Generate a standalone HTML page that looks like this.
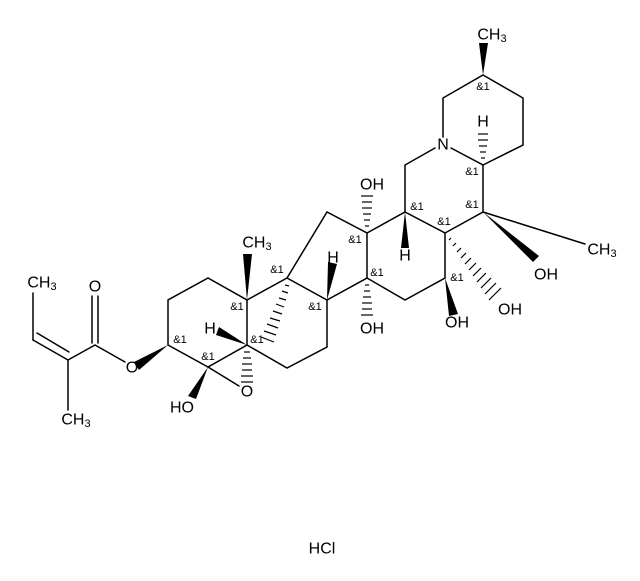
<!DOCTYPE html>
<html><head><meta charset="utf-8"><style>
html,body{margin:0;padding:0;background:#fff;}
svg{display:block;}
text{font-family:"Liberation Sans",Arial,sans-serif;fill:#000;}
.a{font-size:16px;text-anchor:middle;dominant-baseline:central;}
.s{font-size:11px;text-anchor:middle;dominant-baseline:central;}
</style></head><body>
<svg width="640" height="581" viewBox="0 0 640 581" xmlns="http://www.w3.org/2000/svg">
<g stroke="#000" stroke-width="1.5" fill="none" stroke-linecap="round">
<line x1="33" y1="293" x2="33" y2="340"/>
<line x1="33" y1="340" x2="68" y2="360"/>
<line x1="37" y1="333" x2="69" y2="352"/>
<line x1="68" y1="360" x2="68" y2="410"/>
<line x1="68" y1="360" x2="95" y2="345"/>
<line x1="92" y1="343" x2="92" y2="296"/>
<line x1="98" y1="343" x2="98" y2="296"/>
<line x1="95" y1="345" x2="125" y2="362"/>
<polyline points="168,345 168,300 208,278 247,300 247,345 208,367 168,345"/>
<line x1="208" y1="367" x2="239" y2="386"/>
<line x1="247" y1="300" x2="287" y2="278"/>
<polyline points="287,278 327,212 367,233 367,278 327,300 287,278"/>
<polyline points="327,300 327,347 287,368 247,345"/>
<polyline points="367,278 405,300 445,278 445,233 405,212 367,233"/>
<polyline points="445,233 483,212 483,165 451,148"/>
<polyline points="435,148 405,165 405,212"/>
<polyline points="443,137 443,98 483,75 523,98 523,145 483,165"/>
<line x1="483" y1="212" x2="585" y2="244"/>
</g>
<g fill="#000">
<polygon points="168,345 134,362 139,370"/>
<polygon points="208,367 188,396 196,399"/>
<polygon points="247,345 219,327 216,335"/>
<polygon points="247,300 243,254 252,254"/>
<polygon points="327,300 328,262 337,264"/>
<polygon points="445,278 449,316 458,314"/>
<polygon points="405,212 401,248 409,248"/>
<polygon points="483,212 533,262 539,256"/>
<polygon points="483,75 479,43 488,43"/>
</g>
<g stroke="#000" stroke-width="1.2">
<line x1="244" y1="352" x2="250" y2="352"/><line x1="243" y1="358" x2="251" y2="358"/><line x1="242" y1="364" x2="252" y2="364"/><line x1="242" y1="370" x2="252" y2="370"/><line x1="241" y1="376" x2="253" y2="376"/><line x1="241" y1="382" x2="253" y2="382"/>
<line x1="285" y1="285" x2="289" y2="286"/><line x1="282" y1="291" x2="288" y2="293"/><line x1="279" y1="298" x2="286" y2="300"/><line x1="276" y1="304" x2="284" y2="307"/><line x1="273" y1="311" x2="282" y2="314"/><line x1="270" y1="318" x2="280" y2="321"/><line x1="267" y1="324" x2="278" y2="328"/><line x1="264" y1="331" x2="276" y2="335"/><line x1="261" y1="337" x2="274" y2="342"/>
<line x1="365" y1="226" x2="369" y2="226"/><line x1="364" y1="220" x2="370" y2="220"/><line x1="363" y1="214" x2="371" y2="214"/><line x1="362" y1="208" x2="372" y2="208"/><line x1="362" y1="202" x2="372" y2="202"/><line x1="361" y1="196" x2="373" y2="196"/>
<line x1="365" y1="285" x2="369" y2="285"/><line x1="364" y1="291" x2="370" y2="291"/><line x1="363" y1="297" x2="371" y2="297"/><line x1="362" y1="303" x2="372" y2="303"/><line x1="362" y1="309" x2="372" y2="309"/><line x1="361" y1="315" x2="373" y2="315"/>
<line x1="449" y1="240" x2="451" y2="238"/><line x1="453" y1="246" x2="456" y2="243"/><line x1="457" y1="252" x2="461" y2="248"/><line x1="461" y1="258" x2="466" y2="253"/><line x1="465" y1="264" x2="471" y2="258"/><line x1="469" y1="270" x2="476" y2="263"/><line x1="473" y1="276" x2="481" y2="268"/><line x1="477" y1="282" x2="486" y2="273"/><line x1="481" y1="288" x2="491" y2="278"/><line x1="485" y1="294" x2="496" y2="283"/><line x1="489" y1="300" x2="501" y2="288"/>
<line x1="481" y1="158" x2="485" y2="158"/><line x1="480" y1="152" x2="486" y2="152"/><line x1="479" y1="146" x2="487" y2="146"/><line x1="478" y1="140" x2="488" y2="140"/><line x1="478" y1="134" x2="488" y2="134"/>
</g>
<text class="a" x="42" y="283">CH<tspan font-size="11" dy="4">3</tspan></text>
<text class="a" x="95" y="287">O</text>
<text class="a" x="132" y="368">O</text>
<text class="a" x="76" y="420">CH<tspan font-size="11" dy="4">3</tspan></text>
<text class="a" x="182" y="408">HO</text>
<text class="a" x="247" y="392">O</text>
<text class="a" x="210" y="329">H</text>
<text class="a" x="257" y="243">CH<tspan font-size="11" dy="4">3</tspan></text>
<text class="a" x="333" y="258">H</text>
<text class="a" x="372" y="185">OH</text>
<text class="a" x="372" y="329">OH</text>
<text class="a" x="457" y="323">OH</text>
<text class="a" x="510" y="310">OH</text>
<text class="a" x="546" y="275">OH</text>
<text class="a" x="405" y="256">H</text>
<text class="a" x="602" y="250">CH<tspan font-size="11" dy="4">3</tspan></text>
<text class="a" x="443" y="145">N</text>
<text class="a" x="483" y="122">H</text>
<text class="a" x="492" y="35">CH<tspan font-size="11" dy="4">3</tspan></text>
<text class="a" x="322" y="549">HCl</text>
<text class="s" x="483" y="87">&amp;1</text>
<text class="s" x="472" y="172">&amp;1</text>
<text class="s" x="472" y="205">&amp;1</text>
<text class="s" x="417" y="207">&amp;1</text>
<text class="s" x="444" y="222">&amp;1</text>
<text class="s" x="355" y="240">&amp;1</text>
<text class="s" x="377" y="273">&amp;1</text>
<text class="s" x="457" y="278">&amp;1</text>
<text class="s" x="315" y="307">&amp;1</text>
<text class="s" x="277" y="270">&amp;1</text>
<text class="s" x="237" y="307">&amp;1</text>
<text class="s" x="180" y="340">&amp;1</text>
<text class="s" x="208" y="357">&amp;1</text>
<text class="s" x="257" y="340">&amp;1</text>
</svg>
</body></html>
